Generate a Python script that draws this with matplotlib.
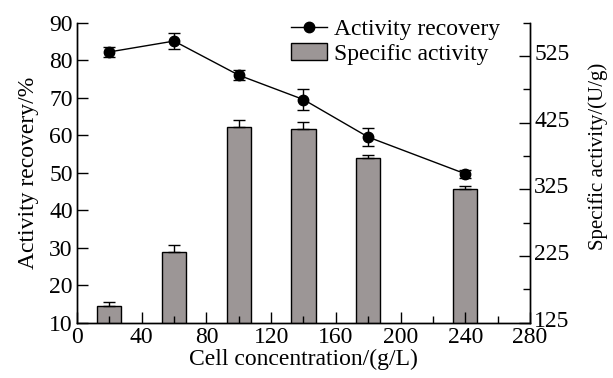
import numpy as np
import matplotlib
matplotlib.use('Agg')
import matplotlib.pyplot as plt
import matplotlib.transforms as mtransforms
from matplotlib.lines import Line2D
from matplotlib.ticker import MultipleLocator

# cell concentration (g/L)
conc = [20, 60, 100, 140, 180, 240]

# activity recovery (%), left axis
recovery = [82.2, 85.1, 76.0, 69.5, 59.5, 49.7]
recovery_err = [1.4, 2.1, 1.4, 2.7, 2.4, 1.0]

# specific activity (U/g), right axis
spec_act = [150, 231, 419, 416, 372, 325]
spec_err = [6, 10, 10, 10, 5, 5]

plt.rcParams['font.family'] = ['Liberation Serif', 'DejaVu Serif']
plt.rcParams['font.size'] = 17

fig = plt.figure(figsize=(6.13, 3.78), dpi=100)
ax1 = fig.add_axes([0.1256, 0.1463, 0.739, 0.7937])
ax2 = ax1.twinx()

# bars on the right axis
bars = ax2.bar(conc, spec_act, width=15, color='#9c9696', edgecolor='black',
               linewidth=1.0, label='Specific activity')
ax2.errorbar(conc, spec_act, yerr=[[0] * len(spec_err), spec_err], fmt='none',
             ecolor='black', elinewidth=1.0, capsize=4, capthick=1.0)
ax2.set_ylim(125, 575)
ax2.yaxis.set_major_locator(MultipleLocator(100, offset=25))
ax2.yaxis.set_minor_locator(MultipleLocator(50, offset=25))
ax2.set_ylabel('Specific activity/(U/g)', fontsize=15)
ax2.yaxis.set_label_coords(1.129, 0.553)

# line on the left axis, kept on top
ax1.set_zorder(ax2.get_zorder() + 1)
ax1.patch.set_visible(False)
ax1.errorbar(conc, recovery, yerr=recovery_err, fmt='-o', color='black',
             markersize=7.5, linewidth=1.0, elinewidth=1.0, capsize=4,
             capthick=1.0)
ax1.set_xlim(0, 280)
ax1.set_ylim(10, 90)
ax1.xaxis.set_major_locator(MultipleLocator(40))
ax1.xaxis.set_minor_locator(MultipleLocator(20))
ax1.yaxis.set_major_locator(MultipleLocator(10))
ax1.set_xlabel('Cell concentration/(g/L)', labelpad=1)
ax1.set_ylabel('Activity recovery/%', labelpad=7)

for ax in (ax1, ax2):
    ax.spines['top'].set_visible(False)
    ax.tick_params(which='major', direction='in', length=8, width=1.0, pad=3)
    ax.tick_params(which='minor', direction='in', length=5, width=1.0)
    for s in ax.spines.values():
        s.set_linewidth(1.0)
ax1.tick_params(axis='y', which='both', right=False)
ax2.tick_params(axis='x', which='both', bottom=False, top=False)

# right tick labels sit a little high in the original
shift = mtransforms.ScaledTranslation(0, 3 / 72, fig.dpi_scale_trans)
for lab in ax2.get_yticklabels():
    lab.set_transform(lab.get_transform() + shift)

line_handle = Line2D([], [], color='black', marker='o', markersize=7.5,
                     linewidth=1.0)
fig.legend([line_handle, bars], ['Activity recovery', 'Specific activity'],
           loc='upper left', bbox_to_anchor=(0.46, 0.975), frameon=False,
           handlelength=1.5, handletextpad=0.3, labelspacing=0.12,
           borderaxespad=0)

fig.savefig('out.png', dpi=100)
